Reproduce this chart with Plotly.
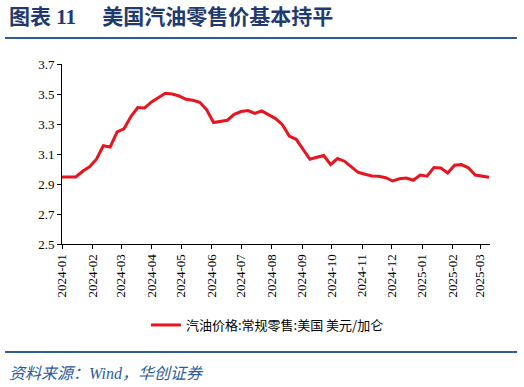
import pandas as pd
import plotly.graph_objects as go

# Weekly US regular gasoline retail price (USD/gallon)
start_date = "2024-01-01"
n_weeks = 63
prices = [
    2.947, 2.947, 2.947, 2.985, 3.015, 3.065, 3.155, 3.147, 3.247, 3.268,
    3.350, 3.410, 3.407, 3.447, 3.475, 3.505, 3.500, 3.487, 3.465, 3.458,
    3.445, 3.395, 3.310, 3.318, 3.325, 3.365, 3.383, 3.390, 3.370, 3.387,
    3.363, 3.336, 3.295, 3.220, 3.198, 3.130, 3.065, 3.078, 3.090, 3.030,
    3.070, 3.052, 3.015, 2.978, 2.965, 2.953, 2.951, 2.942, 2.920, 2.935,
    2.940, 2.925, 2.960, 2.952, 3.010, 3.007, 2.973, 3.025, 3.029, 3.008,
    2.960, 2.952, 2.945,
]
dates = pd.date_range(start_date, periods=n_weeks, freq="7D")

tick_dates = pd.date_range("2024-01-01", "2025-03-01", freq="MS")
tick_labels = [d.strftime("%Y-%m") for d in tick_dates]
y_ticks = [2.5, 2.7, 2.9, 3.1, 3.3, 3.5, 3.7]
y_tick_labels = ["2.5", "2.7", "2.9", "3.1", "3.3", "3.5", "3.7"]

series_name = "汽油价格:常规零售:美国 美元/加仑"
title_text = "图表 11\u00a0\u00a0\u00a0\u00a0\u00a0美国汽油零售价基本持平"
source_text = "资料来源：Wind，华创证券"

W, H = 524, 387
L, R, T, B = 62, 34, 64, 143
pw, ph = W - L - R, H - T - B

def px_x(x):
    return (x - L) / pw

def px_y(y):
    return (H - B - y) / ph

fig = go.Figure()
fig.add_trace(go.Scatter(
    x=dates, y=prices, mode="lines", name=series_name,
    line=dict(color="#E8141E", width=3),
))

serif = "Liberation Serif, Times New Roman, Noto Sans CJK SC, serif"
fig.update_layout(
    width=W, height=H,
    margin=dict(l=L, r=R, t=T, b=B),
    paper_bgcolor="white", plot_bgcolor="white",
    showlegend=True,
    legend=dict(
        orientation="h", x=0.48, xanchor="center", y=px_y(325), yanchor="middle",
        font=dict(family="Noto Sans CJK SC, sans-serif", size=13, color="#000"),
        bgcolor="rgba(0,0,0,0)",
    ),
    xaxis=dict(
        type="date", range=["2024-01-01", "2025-03-11"],
        tickmode="array", tickvals=tick_dates, ticktext=tick_labels,
        tickangle=-90, ticks="outside", ticklen=4, tickcolor="#000",
        showline=True, linecolor="#000", linewidth=1, showgrid=False,
        zeroline=False, tickfont=dict(family=serif, size=13, color="#000"),
    ),
    yaxis=dict(
        range=[2.5, 3.7], tickmode="array", tickvals=y_ticks, ticktext=y_tick_labels,
        ticks="outside", ticklen=4, tickcolor="#000",
        showline=True, linecolor="#000", linewidth=1, showgrid=False,
        zeroline=False, tickfont=dict(family=serif, size=13, color="#000"),
    ),
    shapes=[
        dict(type="line", xref="paper", yref="paper", x0=px_x(5), x1=px_x(517),
             y0=px_y(38), y1=px_y(38), line=dict(color="#2E5C99", width=2)),
        dict(type="line", xref="paper", yref="paper", x0=px_x(5), x1=px_x(517),
             y0=px_y(352), y1=px_y(352), line=dict(color="#2E5C99", width=2)),
    ],
    annotations=[
        dict(text="<b>" + title_text + "</b>", xref="paper", yref="paper",
             x=px_x(7), y=px_y(17), xanchor="left", yanchor="middle", showarrow=False,
             font=dict(family=serif, size=21, color="#1F3A6E")),
        dict(text="<i>" + source_text + "</i>", xref="paper", yref="paper",
             x=px_x(7), y=px_y(373), xanchor="left", yanchor="middle", showarrow=False,
             font=dict(family=serif, size=16, color="#2E5C99")),
    ],
)

fig.write_html(
    "out.html",
    config={"displayModeBar": False},
    post_script="document.body.style.margin='0';document.body.style.overflow='hidden';",
)
